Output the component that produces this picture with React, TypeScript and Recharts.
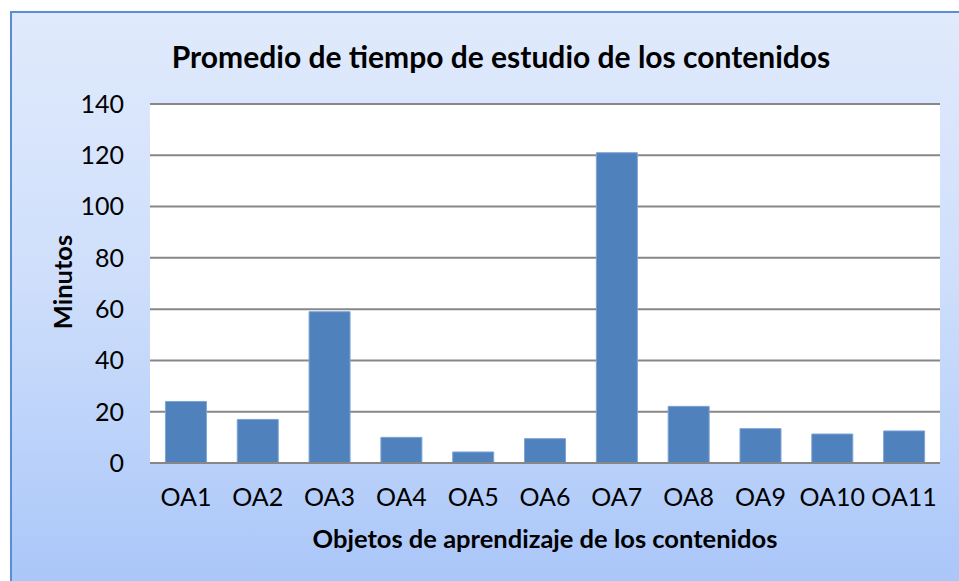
import React from 'react';
import { BarChart, Bar, XAxis, YAxis, CartesianGrid } from 'recharts';

const categories = ['OA1', 'OA2', 'OA3', 'OA4', 'OA5', 'OA6', 'OA7', 'OA8', 'OA9', 'OA10', 'OA11'];
const minutos = [24, 17, 59, 10, 4.3, 9.5, 121, 22.1, 13.4, 11.3, 12.5];
const yTicks = [0, 20, 40, 60, 80, 100, 120, 140];

const data = categories.map((name, i) => ({ name, value: minutos[i] }));

const FONT = 'Lato, "Open Sans", sans-serif';

const YLabel = () => (
  <text
    x={62}
    y={282}
    transform="rotate(-90 62 282)"
    textAnchor="middle"
    dominantBaseline="central"
    fontFamily={FONT}
    fontWeight="bold"
    fontSize={25.5}
    fill="#000"
  >
    Minutos
  </text>
);

export default function App() {
  return (
    <div style={{ position: 'absolute', left: 0, top: 0, width: 959, height: 581, overflow: 'hidden', background: '#fff' }}>
      <div
        style={{
          position: 'absolute',
          left: 10,
          top: 11,
          width: 960,
          height: 580,
          border: '2px solid #5b8dd3',
          boxShadow: '2px 2px 3px rgba(0,0,0,0.25)',
          background: 'linear-gradient(to bottom, #e0eafc 0%, #cfdffb 45%, #a9c6f9 100%)',
        }}
      />
      <div
        style={{
          position: 'absolute',
          left: 0,
          top: 36,
          width: 1002,
          textAlign: 'center',
          fontFamily: FONT,
          fontWeight: 'bold',
          fontSize: 30,
          lineHeight: '40px',
          color: '#000',
        }}
      >
        Promedio de tiempo de estudio de los contenidos
      </div>
      <div style={{ position: 'absolute', left: 0, top: 0 }}>
        <BarChart
          width={959}
          height={581}
          data={data}
          margin={{ top: 104, right: 19, bottom: 0, left: 0 }}
          barCategoryGap="21.5%"
        >
          <CartesianGrid vertical={false} fill="#ffffff" stroke="#878787" strokeWidth={2} horizontalValues={yTicks} />
          <XAxis
            dataKey="name"
            axisLine={{ stroke: '#878787', strokeWidth: 2 }}
            tickLine={false}
            tickSize={0}
            tickMargin={25}
            tick={{ fill: '#000', fontSize: 25, fontFamily: FONT }}
            interval={0}
            height={118}
            label={{
              value: 'Objetos de aprendizaje de los contenidos',
              position: 'insideBottom',
              offset: 33,
              fill: '#000',
              fontSize: 25.5,
              fontWeight: 'bold',
              fontFamily: FONT,
            }}
          />
          <YAxis
            width={150}
            domain={[0, 140]}
            ticks={yTicks}
            axisLine={false}
            tickLine={false}
            tickSize={0}
            tickMargin={26}
            tick={{ fill: '#000', fontSize: 25, fontFamily: FONT }}
            label={<YLabel />}
          />
          <Bar dataKey="value" fill="#4f81bd" stroke="#7ea3d6" strokeWidth={1} isAnimationActive={false} />
        </BarChart>
      </div>
    </div>
  );
}
